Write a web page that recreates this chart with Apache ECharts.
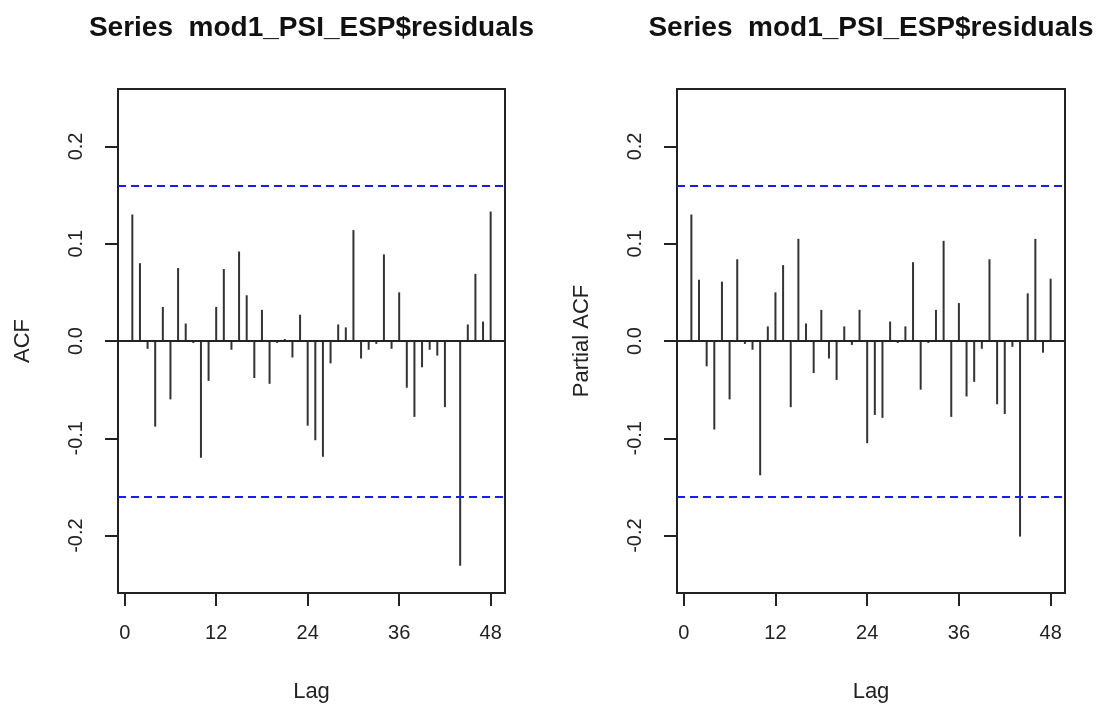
<!DOCTYPE html>
<html>
<head>
<meta charset="utf-8">
<script src="https://cdn.jsdelivr.net/npm/echarts@6/dist/echarts.min.js"></script>
<style>
html,body{margin:0;padding:0;background:#fff;}
#chart{width:1101px;height:706px;}
</style>
</head>
<body>
<div id="chart"></div>
<script>
const titleText = "Series  mod1_PSI_ESP$residuals";
const lags = [1,2,3,4,5,6,7,8,9,10,11,12,13,14,15,16,17,18,19,20,21,22,23,24,
              25,26,27,28,29,30,31,32,33,34,35,36,37,38,39,40,41,42,43,44,45,46,47,48];
const acfValues = [0.130,0.080,-0.008,-0.088,0.035,-0.060,0.075,0.018,-0.002,-0.120,-0.041,0.035,
                   0.074,-0.009,0.092,0.047,-0.038,0.032,-0.044,-0.002,0.002,-0.017,0.027,-0.087,
                   -0.102,-0.119,-0.023,0.017,0.014,0.114,-0.018,-0.009,-0.003,0.089,-0.008,0.050,
                   -0.048,-0.078,-0.027,-0.009,-0.015,-0.068,0.001,-0.231,0.017,0.069,0.020,0.133];
const pacfValues = [0.130,0.063,-0.026,-0.091,0.061,-0.060,0.084,-0.003,-0.009,-0.138,0.015,0.050,
                    0.078,-0.068,0.105,0.018,-0.033,0.032,-0.018,-0.040,0.015,-0.004,0.032,-0.105,
                    -0.076,-0.079,0.020,-0.002,0.015,0.081,-0.050,-0.002,0.032,0.103,-0.078,0.039,
                    -0.057,-0.042,-0.008,0.084,-0.065,-0.075,-0.006,-0.201,0.049,0.105,-0.012,0.064];
const xTicks = [0, 12, 24, 36, 48];
const yTicks = [-0.2, -0.1, 0.0, 0.1, 0.2];
const clim = 0.1564;
const yNames = ["ACF", "Partial ACF"];
const xName = "Lag";

const FONT = "Liberation Sans, Arial, sans-serif";
const INK = "#222";

const grids = [
  {left: 118, top: 89, width: 387, height: 504},
  {left: 677, top: 89, width: 388, height: 504}
];

function xAxis(i) {
  return {
    type: 'value', gridIndex: i, min: -0.88, max: 49.88,
    name: xName, nameLocation: 'middle', nameGap: 88,
    nameTextStyle: {fontFamily: FONT, fontSize: 22, color: INK},
    splitLine: {show: false},
    axisLine: {show: false, onZero: false},
    axisTick: {show: true, length: 13, customValues: xTicks, lineStyle: {color: INK, width: 2}},
    axisLabel: {show: true, customValues: xTicks, margin: 30, fontFamily: FONT, fontSize: 20, color: INK,
                formatter: v => String(v)}
  };
}
function yAxis(i) {
  return {
    type: 'value', gridIndex: i, min: -0.259, max: 0.259,
    name: yNames[i], nameLocation: 'middle', nameGap: 84,
    nameTextStyle: {fontFamily: FONT, fontSize: 22, color: INK},
    splitLine: {show: false},
    axisLine: {show: false, onZero: false},
    axisTick: {show: true, length: 13, customValues: yTicks, lineStyle: {color: INK, width: 2}},
    axisLabel: {show: true, customValues: yTicks, rotate: 90, margin: 32, fontFamily: FONT, fontSize: 20, color: INK,
                formatter: v => v.toFixed(1)}
  };
}
function series(i, vals) {
  return {
    type: 'bar', xAxisIndex: i, yAxisIndex: i, barWidth: 2,
    itemStyle: {color: '#333'},
    data: lags.map((l, k) => [l, vals[k]]),
    markLine: {
      silent: true, symbol: 'none', label: {show: false}, animation: false,
      data: [
        {yAxis: 0, lineStyle: {color: INK, width: 2, type: 'solid'}},
        {yAxis: clim, lineStyle: {color: '#1a1aff', width: 2, type: [8, 5]}},
        {yAxis: -clim, lineStyle: {color: '#1a1aff', width: 2, type: [8, 5]}}
      ]
    }
  };
}

const chart = echarts.init(document.getElementById('chart'), null, {renderer: 'canvas'});
chart.setOption({
  animation: false,
  backgroundColor: '#fff',
  title: grids.map(g => ({
    text: titleText, left: g.left + g.width / 2, top: 14, textAlign: 'center', padding: 0,
    textStyle: {fontFamily: FONT, fontSize: 28, fontWeight: 'bold', color: '#111'}
  })),
  grid: grids.map(g => Object.assign({show: true, borderColor: INK, borderWidth: 2, backgroundColor: 'transparent',
                                      containLabel: false, outerBoundsMode: 'none'}, g)),
  xAxis: [xAxis(0), xAxis(1)],
  yAxis: [yAxis(0), yAxis(1)],
  series: [series(0, acfValues), series(1, pacfValues)]
});
</script>
</body>
</html>
